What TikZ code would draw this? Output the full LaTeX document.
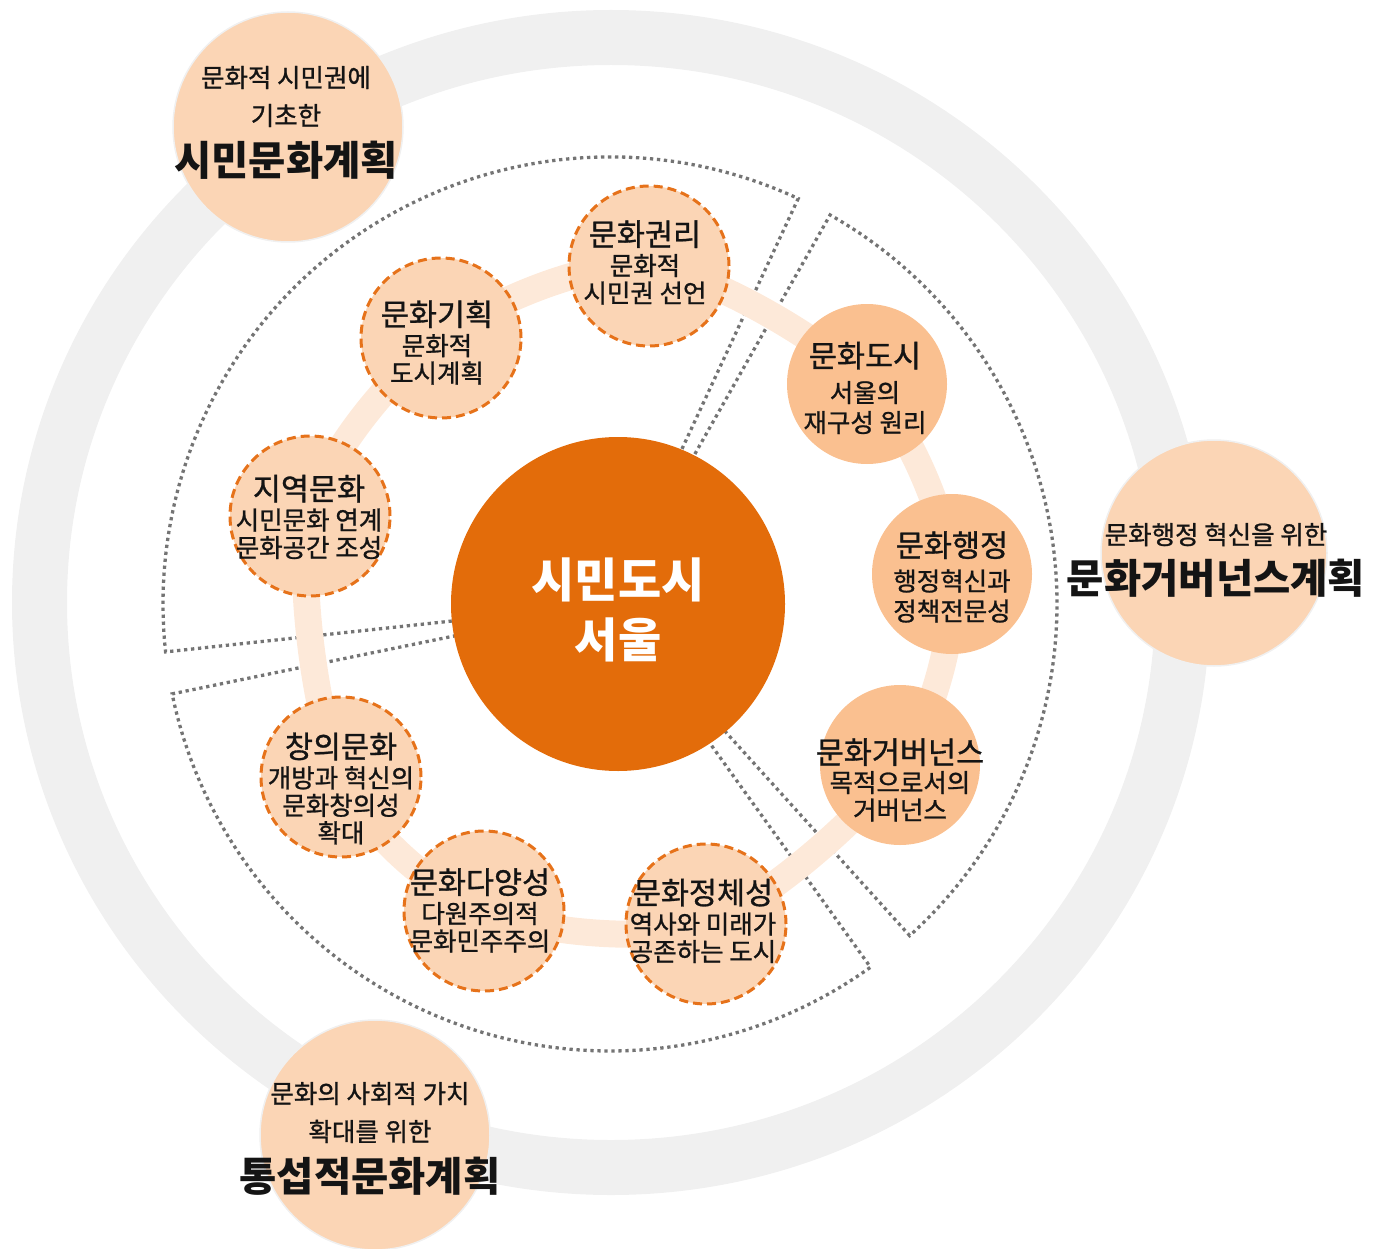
\documentclass[tikz,border=0pt]{standalone}
\usepackage{fontspec}
\setmainfont{Noto Sans CJK KR}
\newfontfamily\krmed{Noto Sans CJK KR}[FakeBold=1.0]
\definecolor{grayring}{HTML}{F0F0F0}
\definecolor{peachring}{HTML}{FDE9D9}
\definecolor{peach}{HTML}{FBD5B5}
\definecolor{peachdark}{HTML}{FAC090}
\definecolor{orangemain}{HTML}{E36C0A}
\definecolor{dashorange}{HTML}{E6721A}
\definecolor{dotgray}{HTML}{747474}
\definecolor{txt}{HTML}{141414}
\begin{document}
\begin{tikzpicture}[x=1pt,y=1pt,
  bigcirc/.style={circle, fill=peach, draw=gray!12, line width=1.5, minimum size=230, inner sep=0},
  dashcirc/.style={circle, fill=peach, draw=dashorange, line width=3, dash pattern=on 9pt off 5pt, minimum size=160, inner sep=0},
  solidcirc/.style={circle, fill=peachdark, minimum size=160, inner sep=0},
  core/.style={circle, fill=orangemain, minimum size=334, inner sep=0},
  dotsec/.style={draw=dotgray, line width=3.3, dash pattern=on 3.3pt off 3.7pt},
  smalltxt/.style={align=center, text=txt, font=\krmed\fontsize{25.5}{27.5}\selectfont, inner sep=0},
  smalltxtw/.style={align=center, text=txt, font=\krmed\fontsize{25.5}{30}\selectfont, inner sep=0},
  outertxt/.style={align=center, text=txt, font=\krmed\fontsize{25.5}{38}\selectfont, inner sep=0},
]
\newcommand{\ctitle}[1]{{\fontsize{30.5}{32}\selectfont #1}}
\newcommand{\otitle}[1]{{\normalfont\fontsize{40.5}{42}\selectfont\bfseries #1}}
\useasboundingbox (0,0) rectangle (1381,-1249);

% outer gray ring
\draw[grayring, line width=55] (611,-602.5) ellipse [x radius=571.5, y radius=565];

% outer plan circles
\node[bigcirc] (pa) at (288,-127) {};
\node[bigcirc, minimum size=226] (pb) at (1214,-553) {};
\node[bigcirc] (pc) at (375,-1135) {};
\node[outertxt] (pat) at (286,-122.5) {문화적 시민권에\\기초한\\[12pt]\otitle{시민문화계획}};
\node[outertxt] (pbt) at (1216,-560) {문화행정 혁신을 위한\\[11pt]\otitle{문화거버넌스계획}};
\node[outertxt] (pct) at (370,-1138.5) {문화의 사회적 가치\\확대를 위한\\[12pt]\otitle{통섭적문화계획}};

% dotted sectors
\begin{scope}[shift={(610,-604)}]
\draw[dotsec] (65.1:150) -- (65.1:447) arc[start angle=65.1, end angle=186.15, radius=447] -- (186.15:150);
\draw[dotsec] (-47.9:150) -- (-47.9:447) arc[start angle=-47.9, end angle=60.5, radius=447] -- (60.5:150);
\draw[dotsec] (191.6:150) -- (191.6:447) arc[start angle=191.6, end angle=305.65, radius=447] -- (305.65:150);
\end{scope}

% positions of the nine circles
\coordinate (k1) at (649,-266);
\coordinate (k2) at (441,-338);
\coordinate (k3) at (310,-516);
\coordinate (k4) at (341,-777);
\coordinate (k5) at (484,-911);
\coordinate (k6) at (706,-924);
\coordinate (k7) at (900,-765);
\coordinate (k8) at (952,-574);
\coordinate (k9) at (867,-384);

% connecting peach ring
\draw[peachring, line width=27] plot[smooth cycle] coordinates {(k1) (k9) (k8) (k7) (k6) (k5) (k4) (k3) (k2)};

% nine circles
\node[dashcirc] (c1) at (k1) {};
\node[dashcirc] (c2) at (k2) {};
\node[dashcirc] (c3) at (k3) {};
\node[dashcirc] (c4) at (k4) {};
\node[dashcirc] (c5) at (k5) {};
\node[dashcirc] (c6) at (k6) {};
\node[solidcirc] (c7) at (k7) {};
\node[solidcirc] (c8) at (k8) {};
\node[solidcirc] (c9) at (k9) {};

\node[smalltxt] (t1) at (645,-262.5) {\ctitle{문화권리}\\[2pt]문화적\\시민권 선언};
\node[smalltxt] (t2) at (437,-342.5) {\ctitle{문화기획}\\[2pt]문화적\\도시계획};
\node[smalltxt] (t3) at (309,-517) {\ctitle{지역문화}\\[2pt]시민문화 연계\\문화공간 조성};
\node[smalltxt] (t4) at (341,-788.5) {\ctitle{창의문화}\\[2pt]개방과 혁신의\\문화창의성\\확대};
\node[smalltxt] (t5) at (480,-910.5) {\ctitle{문화다양성}\\[2pt]다원주의적\\문화민주주의};
\node[smalltxt] (t6) at (703,-921) {\ctitle{문화정체성}\\[2pt]역사와 미래가\\공존하는 도시};
\node[smalltxt] (t7) at (900,-780) {\ctitle{문화거버넌스}\\[1pt]목적으로서의\\거버넌스};
\node[smalltxtw] (t8) at (952,-577) {\ctitle{문화행정}\\[4pt]행정혁신과\\정책전문성};
\node[smalltxtw] (t9) at (865,-388) {\ctitle{문화도시}\\[5pt]서울의\\재구성 원리};

% central circle
\node[core] (hub) at (618,-604) {};
\node[align=center, text=white, inner sep=0, font=\fontsize{47}{60}\selectfont\bfseries] (hubt) at (618,-610) {시민도시\\서울};
\end{tikzpicture}
\end{document}
